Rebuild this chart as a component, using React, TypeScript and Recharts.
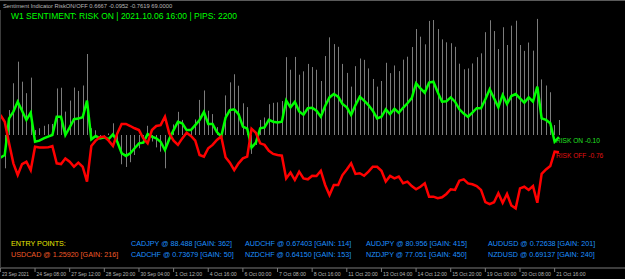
import React from "react";
import { ComposedChart, Bar, Line, XAxis, YAxis, LabelList } from "recharts";

// H4 bars, one label every 8 bars
const timeLabels = [
  "23 Sep 2021", "24 Sep 08:00", "27 Sep 12:00", "28 Sep 20:00", "30 Sep 04:00",
  "1 Oct 12:00", "4 Oct 16:00", "6 Oct 00:00", "7 Oct 08:00", "8 Oct 16:00",
  "11 Oct 20:00", "13 Oct 04:00", "14 Oct 12:00", "15 Oct 20:00", "19 Oct 00:00",
  "20 Oct 08:00", "21 Oct 16:00",
];

const riskOn = [
  -1.01, -0.89, 0.74, 1.04, 1.48, 1.08, 0.67, 0.99, -0.3, -0.25,
  -0.15, -0.07, 0.0, 0.81, 0.81, 0.0, 0.34, 0.7, 0.73, 0.79,
  1.53, -0.19, -0.04, -0.15, -0.1, -0.18, 0.03, -0.3, -0.81, -0.93,
  -0.81, -0.59, -0.37, -0.34, 0.04, -0.07, -0.15, -0.3, -0.67, -0.18,
  0.22, 0.59, 0.52, 0.22, 0.22, 0.44, 0.67, 1.02, 0.49, 0.49,
  0.13, -0.07, 0.77, 1.11, 1.14, 0.93, 0.37, 0.28, -0.56, -0.34,
  0.3, 0.34, 0.67, 0.59, 0.56, 0.59, 1.53, 1.23, 1.47, 1.05,
  0.9, 1.19, 1.21, 1.08, 0.81, 1.29, 1.67, 1.82, 1.7, 1.38,
  1.23, 0.89, 1.33, 1.7, 1.53, 1.33, 1.08, 0.74, 0.81, 1.14,
  0.93, 1.16, 0.99, 1.21, 1.41, 1.64, 2.3, 2.07, 1.88, 2.33,
  2.37, 1.9, 1.48, 1.5, 1.67, 1.48, 1.14, 0.95, 0.81, 0.99,
  1.19, 1.19, 1.59, 2.03, 1.63, 1.23, 1.78, 1.38, 1.73, 1.82,
  1.63, 1.44, 1.67, 1.48, 2.15, 0.74, 0.67, 0.52, -0.3, -0.0952,
];

const riskOff = [
  0.89, 0.59, -0.37, -1.26, -1.78, -1.29, -1.19, -1.56, -0.52, -0.55,
  -0.56, -0.55, -0.49, -1.26, -1.29, -1.04, -1.19, -1.41, -1.23, -1.41,
  -2.07, -0.49, -0.25, -0.1, -0.07, -0.25, -0.49, 0.07, 0.49, 0.49,
  0.4, 0.3, 0.22, -0.15, -0.37, 0.22, 0.4, 0.44, 0.81, 0.07,
  -0.25, -0.44, -0.15, 0.1, -0.04, -0.25, -0.89, -0.96, -0.59, -0.44,
  -0.22, -0.07, -0.99, -1.23, -1.56, -1.26, -1.04, -0.96, 0.28, 0.1,
  -0.37, -0.44, -0.7, -0.84, -0.89, -0.92, -1.93, -1.67, -2.0, -1.63,
  -1.93, -1.97, -1.81, -1.82, -1.59, -2.22, -2.67, -2.22, -2.22, -1.78,
  -1.53, -1.26, -1.73, -1.7, -1.81, -1.63, -1.41, -1.41, -1.59, -2.07,
  -1.82, -1.93, -1.85, -2.14, -2.07, -2.27, -2.41, -2.3, -2.15, -2.74,
  -2.74, -2.81, -2.77, -2.62, -2.41, -2.44, -2.03, -1.97, -2.15, -2.19,
  -2.27, -2.44, -2.98, -3.07, -2.99, -2.59, -3.01, -2.62, -3.13, -3.26,
  -2.37, -2.3, -2.44, -2.27, -3.01, -1.73, -1.53, -1.38, -0.74, -0.7619,
];

// grey histogram: RISK ON minus RISK OFF, per bar
const spread = [
  -1.9, -1.48, 1.11, 2.3, 3.26, 2.37, 1.86, 2.55, 0.22, 0.3,
  0.41, 0.48, 0.49, 2.07, 2.1, 1.04, 1.53, 2.11, 1.96, 2.2,
  3.6, 0.3, 0.21, -0.05, -0.03, 0.07, 0.52, -0.37, -1.3, -1.42,
  -1.21, -0.89, -0.59, -0.19, 0.41, -0.29, -0.55, -0.74, -1.48, -0.25,
  0.47, 1.03, 0.67, 0.12, 0.26, 0.69, 1.56, 1.98, 1.08, 0.93,
  0.35, 0.0, 1.76, 2.34, 2.7, 2.19, 1.41, 1.24, -0.84, -0.44,
  0.67, 0.78, 1.37, 1.43, 1.45, 1.51, 3.46, 2.9, 3.47, 2.68,
  2.83, 3.16, 3.02, 2.9, 2.4, 3.51, 4.34, 4.04, 3.92, 3.16,
  2.76, 2.15, 3.06, 3.4, 3.34, 2.96, 2.49, 2.15, 2.4, 3.21,
  2.75, 3.09, 2.84, 3.35, 3.48, 3.91, 4.71, 4.37, 4.03, 5.07,
  5.11, 4.71, 4.25, 4.12, 4.08, 3.92, 3.17, 2.92, 2.96, 3.18,
  3.46, 3.63, 4.57, 5.1, 4.62, 3.82, 4.79, 4.0, 4.86, 5.08,
  4.0, 3.74, 4.11, 3.75, 5.16, 2.47, 2.2, 1.9, 0.44, 0.6667,
];

const entryMain = "USDCAD @ 1.25920 [GAIN: 216]";
const entryPairs = [
  ["CADJPY @ 88.488 [GAIN: 362]", "CADCHF @ 0.73679 [GAIN: 50]"],
  ["AUDCHF @ 0.67403 [GAIN: 114]", "NZDCHF @ 0.64150 [GAIN: 153]"],
  ["AUDJPY @ 80.956 [GAIN: 415]", "NZDJPY @ 77.051 [GAIN: 450]"],
  ["AUDUSD @ 0.72638 [GAIN: 201]", "NZDUSD @ 0.69137 [GAIN: 240]"],
];

const data = riskOn.map((v, i) => ({
  bar: i,
  riskOn: v,
  riskOff: riskOff[i],
  spread: spread[i],
}));

const W = 625;
const H = 279;
const FONT = "'Liberation Sans', Arial, sans-serif";
const lastIndex = data.length - 1;
const columnX = [131, 245, 366, 488];

const Stick = (props: any) => {
  const { x, y, width, height } = props;
  if (x == null || y == null) return null;
  const cx = Math.floor(x + width / 2) + 0.5;
  return <line x1={cx} x2={cx} y1={y} y2={y + height} stroke="#7c7c7c" strokeWidth={1} />;
};

// the terminal's axis font is narrow, so squeeze each label
const TimeTick = (props: any) => {
  const { x, y, payload } = props;
  const label = timeLabels[payload.value / 8];
  return (
    <text
      x={x + 1.5}
      y={y + 3.8}
      fill="#b4b4b4"
      fontSize={5.6}
      fontFamily={FONT}
      textAnchor="start"
      textLength={label.length * 2.45}
      lengthAdjust="spacingAndGlyphs"
    >
      {label}
    </text>
  );
};

const endLabel = (name: string, color: string) => (props: any) => {
  const { x, y, value, index } = props;
  if (index !== lastIndex) return null;
  return (
    <text x={x - 3} y={y + 6} fill={color} fontSize={6.6} fontFamily={FONT}>
      {`${name} ${Number(value).toFixed(2)}`}
    </text>
  );
};

export default function App() {
  return (
    <div style={{ position: "relative", width: W, height: H, background: "#000", overflow: "hidden" }}>
      <style>{"body{margin:0;background:#000}"}</style>
      <ComposedChart
        width={W}
        height={H}
        data={data}
        margin={{ top: 10, right: 0, bottom: 0, left: 0 }}
      >
        <XAxis
          dataKey="bar"
          type="number"
          domain={[-0.092, 144.25]}
          ticks={timeLabels.map((_, i) => i * 8)}
          interval={0}
          tick={<TimeTick />}
          height={11}
          tickSize={4}
          tickMargin={0}
          axisLine={{ stroke: "#7a7a7a" }}
          tickLine={{ stroke: "#7a7a7a" }}
          allowDataOverflow
        />
        <YAxis hide domain={[-5.911, 5.556]} allowDataOverflow />
        <Bar dataKey="spread" barSize={1} shape={<Stick />} isAnimationActive={false} />
        <Line
          type="linear"
          dataKey="riskOn"
          stroke="#00ff00"
          strokeWidth={2.5}
          dot={false}
          isAnimationActive={false}
        >
          <LabelList dataKey="riskOn" content={endLabel("RISK ON", "#22e022")} />
        </Line>
        <Line
          type="linear"
          dataKey="riskOff"
          stroke="#ff0000"
          strokeWidth={2.5}
          dot={false}
          isAnimationActive={false}
        >
          <LabelList dataKey="riskOff" content={endLabel("RISK OFF", "#e01010")} />
        </Line>
      </ComposedChart>
      <svg
        width={W}
        height={H}
        style={{ position: "absolute", left: 0, top: 0, pointerEvents: "none" }}
      >
        <line x1={0} x2={W} y1={0.5} y2={0.5} stroke="#5a5a5a" />
        <line x1={0.5} x2={0.5} y1={10} y2={268} stroke="#3c3c3c" />
        <text x={3} y={7.5} fill="#b8b8b8" fontSize={5.8} fontFamily={FONT}>
          Sentiment Indicator RiskON/OFF 0.6667 -0.0952 -0.7619 69.0000
        </text>
        <text x={11} y={19} fill="#00ff00" fontSize={8.5} fontFamily={FONT}>
          W1 SENTIMENT: RISK ON | 2021.10.06 16:00 | PIPS: 2200
        </text>
        <text x={11} y={246} fill="#e8e800" fontSize={7.2} fontFamily={FONT}>
          ENTRY POINTS:
        </text>
        <text x={11} y={257} fill="#f05a28" fontSize={7.2} fontFamily={FONT}>
          {entryMain}
        </text>
        {entryPairs.map((pair, c) => (
          <g key={c}>
            <text x={columnX[c]} y={246} fill="#1e90ff" fontSize={7.2} fontFamily={FONT}>
              {pair[0]}
            </text>
            <text x={columnX[c]} y={257} fill="#1e90ff" fontSize={7.2} fontFamily={FONT}>
              {pair[1]}
            </text>
          </g>
        ))}
      </svg>
    </div>
  );
}
